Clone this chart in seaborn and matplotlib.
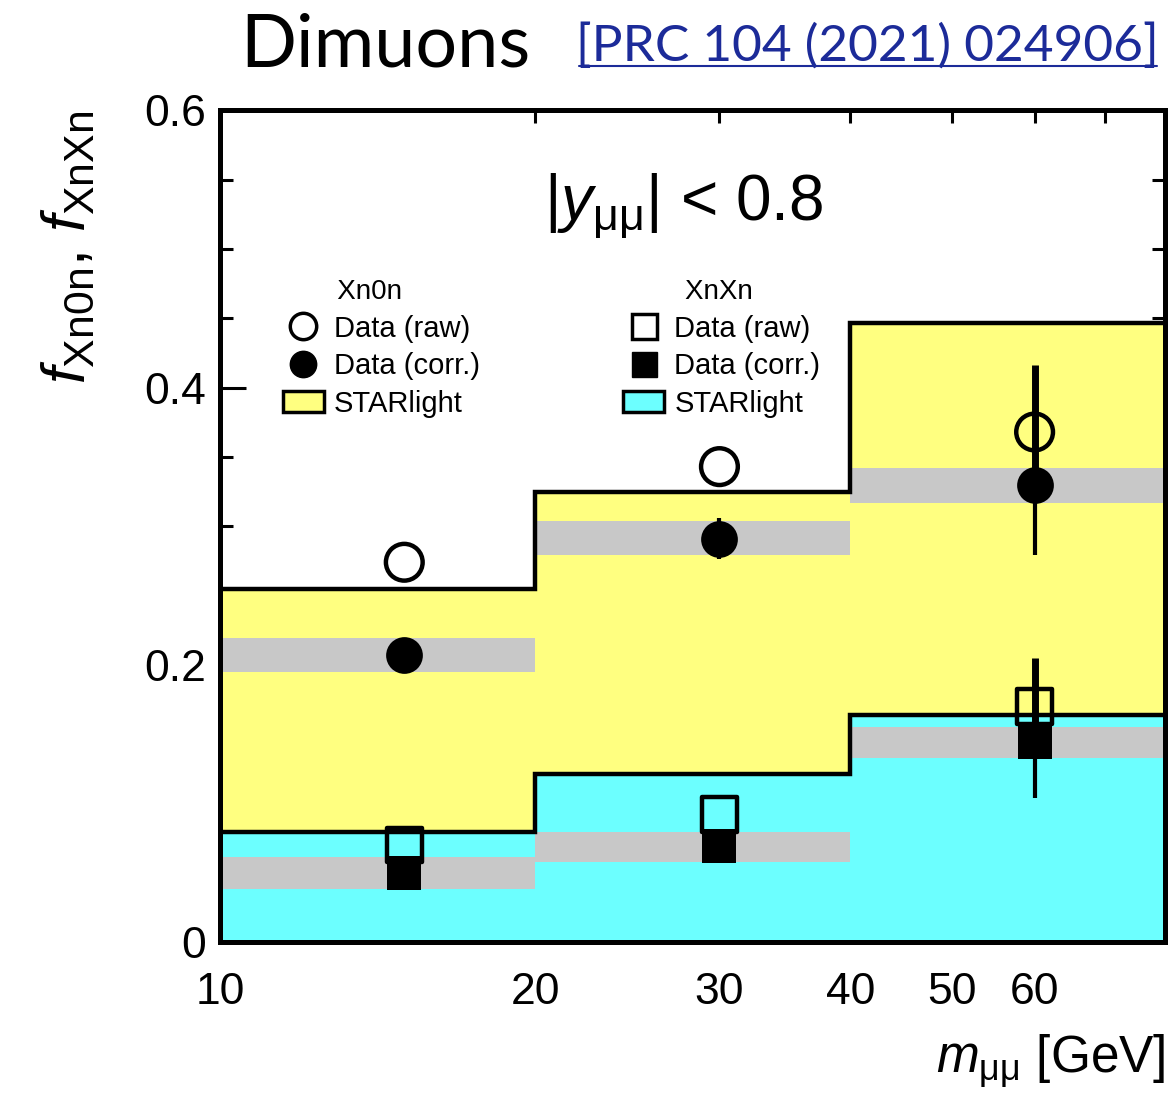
import numpy as np
import seaborn as sns
import matplotlib.pyplot as plt
from matplotlib.lines import Line2D
from matplotlib.patches import Patch

# Bin edges in dimuon mass [GeV] and bin centres used for the data points
bin_edges = [10, 20, 40, 80]
mass_points = [15, 30, 60]

# STARlight predictions per bin
starlight_xn0n = [0.255, 0.325, 0.447]
starlight_xnxn = [0.079, 0.121, 0.164]

# Xn0n data
xn0n_raw = [0.274, 0.343, 0.368]
xn0n_raw_err = [0.0, 0.0, 0.048]
xn0n_corr = [0.207, 0.291, 0.330]
xn0n_corr_err = [0.010, 0.015, 0.051]
xn0n_sys_lo = [0.195, 0.279, 0.317]
xn0n_sys_hi = [0.219, 0.304, 0.342]

# XnXn data
xnxn_raw = [0.070, 0.092, 0.170]
xnxn_raw_err = [0.0, 0.0, 0.035]
xnxn_corr = [0.050, 0.069, 0.144]
xnxn_corr_err = [0.0, 0.0, 0.040]
xnxn_sys_lo = [0.038, 0.058, 0.133]
xnxn_sys_hi = [0.061, 0.079, 0.155]

sns.set_style("white")
plt.rcParams['font.family'] = ['Liberation Sans', 'DejaVu Sans']
plt.rcParams['mathtext.fontset'] = 'custom'
plt.rcParams['mathtext.rm'] = 'Liberation Sans'
plt.rcParams['mathtext.it'] = 'Liberation Sans:italic'
plt.rcParams['text.color'] = 'black'
plt.rcParams['axes.labelcolor'] = 'black'
plt.rcParams['xtick.color'] = 'black'
plt.rcParams['ytick.color'] = 'black'

fig = plt.figure(figsize=(11.76, 10.94), dpi=100)
ax = fig.add_axes([0.187, 0.139, 0.804, 0.760])
ax.set_xscale('log')

yellow = '#ffff80'
cyan = '#6cffff'
grey = '#c8c8c8'

# STARlight fills
ax.stairs(starlight_xn0n, bin_edges, fill=True, color=yellow, zorder=1)
ax.stairs(starlight_xnxn, bin_edges, fill=True, color=cyan, zorder=1.1)

# systematic bands
for i in range(3):
    ax.fill_between([bin_edges[i], bin_edges[i + 1]], xn0n_sys_lo[i], xn0n_sys_hi[i],
                    color=grey, lw=0, zorder=2)
    ax.fill_between([bin_edges[i], bin_edges[i + 1]], xnxn_sys_lo[i], xnxn_sys_hi[i],
                    color=grey, lw=0, zorder=2)

# STARlight outlines
ax.stairs(starlight_xn0n, bin_edges, baseline=None, color='black', lw=3.2, zorder=3)
ax.stairs(starlight_xnxn, bin_edges, baseline=None, color='black', lw=3.2, zorder=3)

# error bars
ax.errorbar(mass_points, xn0n_raw, yerr=xn0n_raw_err, fmt='none', ecolor='black', elinewidth=5, zorder=4)
ax.errorbar(mass_points, xn0n_corr, yerr=xn0n_corr_err, fmt='none', ecolor='black', elinewidth=3, zorder=4)
ax.errorbar(mass_points, xnxn_raw, yerr=xnxn_raw_err, fmt='none', ecolor='black', elinewidth=5, zorder=4)
ax.errorbar(mass_points, xnxn_corr, yerr=xnxn_corr_err, fmt='none', ecolor='black', elinewidth=3, zorder=4)

# data markers
sns.scatterplot(x=mass_points, y=xn0n_raw, marker='o', s=700, facecolor='none',
                edgecolor='black', linewidth=3.2, ax=ax, zorder=5)
sns.scatterplot(x=mass_points, y=xn0n_corr, marker='o', s=700, color='black',
                edgecolor='black', linewidth=0, ax=ax, zorder=5)
sns.scatterplot(x=mass_points, y=xnxn_raw, marker='s', s=620, facecolor='none',
                edgecolor='black', linewidth=3.2, ax=ax, zorder=5)
sns.scatterplot(x=mass_points, y=xnxn_corr, marker='s', s=620, color='black',
                edgecolor='black', linewidth=0, ax=ax, zorder=5)

ax.set_xlim(10, 80)
ax.set_ylim(0, 0.6)

# ticks
ax.xaxis.set_major_locator(plt.FixedLocator([10, 20, 30, 40, 50, 60, 70]))
ax.xaxis.set_minor_locator(plt.NullLocator())
ax.set_xticklabels(['10', '20', '30', '40', '50', '60', ''])
ax.set_yticks([0, 0.2, 0.4, 0.6])
ax.set_yticklabels(['0', '0.2', '0.4', '0.6'])
ax.set_yticks(np.arange(0, 0.601, 0.05), minor=True)
ax.tick_params(axis='x', which='major', direction='in', top=True, bottom=True,
               length=9, width=2.2, labelsize=32, pad=22)
ax.tick_params(axis='y', which='major', direction='in', left=True, right=True,
               length=19, width=2.2, labelsize=32, pad=10)
ax.tick_params(axis='y', which='minor', direction='in', left=True, right=True,
               length=9.5, width=2.2)
for sp in ax.spines.values():
    sp.set_linewidth(3.6)
    sp.set_color('black')
    sp.set_zorder(6)

ax.set_ylabel(r'$f_{\rm Xn0n}$, $f_{\rm XnXn}$', fontsize=44, loc='top', labelpad=34)
ax.set_xlabel(r'$m_{\mathrm{μμ}}$ [GeV]', fontsize=37, loc='right', labelpad=14)

ax.text(0.49, 0.885, r'$|y_{\mathrm{μμ}}|$ < 0.8', transform=ax.transAxes, fontsize=46,
        ha='center', va='center')

# legends
leg1 = ax.legend(handles=[
    Line2D([], [], marker='o', ls='none', markersize=19, markerfacecolor='white',
           markeredgecolor='black', markeredgewidth=2.5),
    Line2D([], [], marker='o', ls='none', markersize=19, color='black'),
    Patch(facecolor=yellow, edgecolor='black', lw=2.5)],
    labels=['Data (raw)', 'Data (corr.)', 'STARlight'],
    title='       Xn0n', title_fontsize=20, fontsize=21, frameon=False,
    loc='upper left', bbox_to_anchor=(0.045, 0.822), alignment='left',
    handlelength=1.4, handletextpad=0.35, labelspacing=0.33, borderpad=0.2)
ax.add_artist(leg1)
ax.legend(handles=[
    Line2D([], [], marker='s', ls='none', markersize=18, markerfacecolor='white',
           markeredgecolor='black', markeredgewidth=2.5),
    Line2D([], [], marker='s', ls='none', markersize=18, color='black'),
    Patch(facecolor=cyan, edgecolor='black', lw=2.5)],
    labels=['Data (raw)', 'Data (corr.)', 'STARlight'],
    title='        XnXn', title_fontsize=20, fontsize=21, frameon=False,
    loc='upper left', bbox_to_anchor=(0.405, 0.822), alignment='left',
    handlelength=1.4, handletextpad=0.35, labelspacing=0.33, borderpad=0.2)

# header
fig.text(0.328, 0.958, 'Dimuons', fontsize=53, family='Lato',
         ha='center', va='center')
fig.text(0.49, 0.958, '[PRC 104 (2021) 024906]', fontsize=37, family='Lato',
         color='#1c2b99', ha='left', va='center')
fig.add_artist(Line2D([0.492, 0.984], [0.94, 0.94], transform=fig.transFigure,
                      color='#1c2b99', lw=1.5))

fig.savefig('out.png', dpi=100)
